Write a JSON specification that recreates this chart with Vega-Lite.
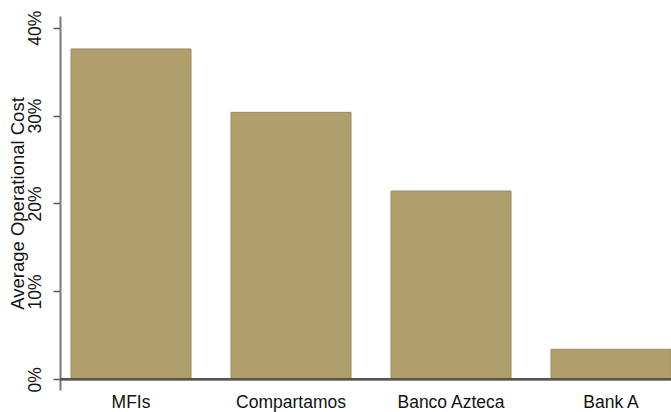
{
  "$schema": "https://vega.github.io/schema/vega-lite/v6.json",
  "width": 611,
  "height": 374,
  "autosize": {"type": "none"},
  "padding": {"left": 60, "top": 16, "right": 0, "bottom": 22},
  "background": "white",
  "config": {
    "view": {"stroke": null},
    "font": "Liberation Sans",
    "axis": {"grid": false, "labelFont": "Liberation Sans", "titleFont": "Liberation Sans", "labelColor": "#111", "titleColor": "#111"}
  },
  "data": {
    "values": [
      {"group": "MFIs", "cost": 0.3758},
      {"group": "Compartamos", "cost": 0.3037},
      {"group": "Banco Azteca", "cost": 0.2142},
      {"group": "Bank A", "cost": 0.0341}
    ]
  },
  "layer": [
    {
      "mark": {"type": "bar", "color": "#b09f6c", "stroke": "#9e8d58", "strokeWidth": 1},
      "encoding": {
        "x": {
          "field": "group",
          "type": "nominal",
          "sort": null,
          "scale": {"paddingInner": 0.25, "paddingOuter": 0.0344, "align": 1},
          "axis": {"title": null, "labelAngle": 0, "domain": false, "ticks": false, "labelFontSize": 17.5, "labelPadding": 3}
        },
        "y": {
          "field": "cost",
          "type": "quantitative",
          "scale": {"domain": [-0.0122, 0.4133], "nice": false, "zero": false},
          "axis": {
            "title": "Average Operational Cost",
            "titleFontSize": 18.5,
            "titleFontWeight": "normal",
            "titlePadding": -1,
            "values": [0, 0.1, 0.2, 0.3, 0.4],
            "format": ".0%",
            "labelAngle": -90,
            "labelAlign": "center",
            "labelBaseline": "bottom",
            "labelFontSize": 17.5,
            "labelPadding": 9,
            "tickSize": 7,
            "tickColor": "#555",
            "tickWidth": 1.5,
            "domainColor": "#777",
            "domainWidth": 2
          }
        },
        "y2": {"datum": 0}
      }
    },
    {
      "mark": {"type": "rule", "color": "#555", "strokeWidth": 2},
      "encoding": {"y": {"datum": 0, "type": "quantitative"}}
    }
  ]
}
